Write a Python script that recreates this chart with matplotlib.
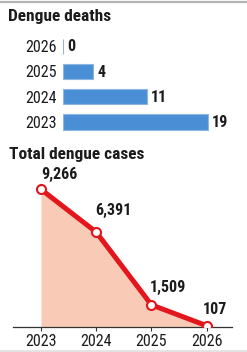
import matplotlib
matplotlib.use("Agg")
import matplotlib.pyplot as plt
from matplotlib.lines import Line2D

plt.rcParams["font.family"] = ["Roboto Condensed", "DejaVu Sans"]

# dengue deaths per year
death_years = ["2023", "2024", "2025", "2026"]
deaths = [19, 11, 4, 0]

# total dengue cases per year
case_years = ["2023", "2024", "2025", "2026"]
cases = [9266, 6391, 1509, 107]
case_labels = ["9,266", "6,391", "1,509", "107"]

BLUE = "#4a8fd6"
BLUE_EDGE = "#8fb4dd"
RED = "#e3151d"
FILL = "#f9cab6"
TEXT = "#1b1b1b"
W, H = 247, 352

fig = plt.figure(figsize=(W / 100, H / 100), dpi=100)
fig.patch.set_facecolor("white")

# thin grey rules at top and bottom of the graphic
fig.add_artist(Line2D([0, 1], [1 - 1.5 / H, 1 - 1.5 / H], color="#b4b4b4", lw=1.6))
fig.add_artist(Line2D([0, 1], [1.5 / H, 1.5 / H], color="#e2e2e2", lw=2.0))

fig.text(7.5 / W, 1 - 21.5 / H, "Dengue deaths", fontsize=12.5, fontweight="bold",
         color=TEXT, ha="left", va="baseline")
fig.text(9 / W, 1 - 159 / H, "Total dengue cases", fontsize=12.5, fontweight="bold",
         color=TEXT, ha="left", va="baseline")

# --- deaths bar chart ---
ax1 = fig.add_axes([62.7 / W, 1 - 134.7 / H, 176 / W, 101.2 / H])
ypos = list(range(len(death_years)))
ax1.barh(ypos, deaths, height=0.6, color=BLUE, edgecolor=BLUE_EDGE, linewidth=0.8)
for y, v in zip(ypos, deaths):
    ax1.annotate(str(v), (v, y), xytext=(3, -0.5), textcoords="offset points",
                 ha="left", va="center", fontsize=11.5, fontweight="bold", color=TEXT)
ax1.set_xlim(0, 23)
ax1.set_ylim(-0.5, 3.5)
ax1.set_yticks(ypos)
ax1.set_yticklabels(death_years, fontsize=11.5, color=TEXT)
ax1.tick_params(axis="y", length=0, pad=4)
ax1.set_xticks([])
for s in ax1.spines.values():
    s.set_visible(False)
ax1.patch.set_alpha(0)

# --- cases area/line chart ---
ax2 = fig.add_axes([13 / W, 1 - 327.3 / H, 219 / W, 157.3 / H])
xpos = list(range(len(case_years)))
ax2.fill_between(xpos, cases, 0, color=FILL, linewidth=0)
ax2.plot(xpos, cases, color=RED, lw=3.6, solid_joinstyle="round", zorder=3)
ax2.plot(xpos, cases, "o", ms=6.5, mfc="white", mec=RED, mew=1.5, zorder=4)
label_offsets = [(0, 5), (-1, 10), (-1, 7), (-3, 6)]
for x, v, lab, off in zip(xpos, cases, case_labels, label_offsets):
    ax2.annotate(lab, (x, v), xytext=off, textcoords="offset points",
                 ha="left", va="bottom", fontsize=11.5, fontweight="bold", color=TEXT)
ax2.set_xlim(-0.507, 3.46)
ax2.set_ylim(0, 10564)
ax2.set_xticks(xpos)
ax2.set_xticklabels(case_years, fontsize=11.5, color=TEXT)
ax2.tick_params(axis="x", length=3, width=0.8, color="#333333", pad=1.5)
ax2.set_yticks([])
for name, s in ax2.spines.items():
    s.set_visible(name == "bottom")
ax2.spines["bottom"].set_color("#333333")
ax2.spines["bottom"].set_linewidth(0.9)
ax2.patch.set_alpha(0)

fig.savefig("out.png", dpi=100, facecolor="white")
